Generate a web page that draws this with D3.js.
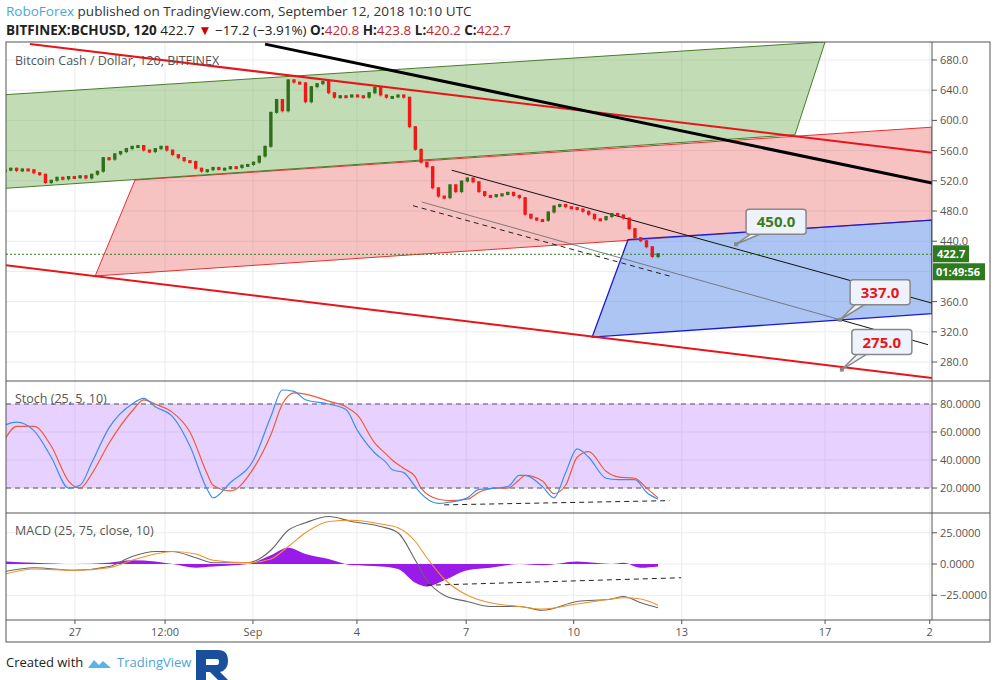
<!DOCTYPE html>
<html><head><meta charset="utf-8">
<script src="https://d3js.org/d3.v7.min.js"></script>
<style>body{margin:0;background:#fff;}svg{font-family:"Open Sans",sans-serif;}</style>
</head><body><svg id="c" width="995" height="680"></svg>
<script>
// 4-hour closes from Aug 25 00:00 (bar index 0)
const closes=[534,536,533,535,534,530,528,517,520,524,522,525,524,526,523,528,532,550,548,555,558,562,565,566,560,558,562,565,560,554,550,546,545,536,532,534,537,535,536,538,537,540,541,544,552,565,610,627,612,653,650,649,624,644,648,651,636,630,632,631,633,632,630,636,643,633,630,631,633,630,591,561,544,538,510,499,497,514,505,519,523,518,505,500,499,501,502,504,500,497,475,470,468,467,478,486,488,485,484,482,479,475,469,468,472,476,474,470,456,444,440,432,419,422.7];
const stochIdx=[0,2,5,8,11,13,15,18,22,24,26,29,32,35,36,39,43,46,48,50,52,56,59,61,64,66,67,69,71,72,75,77,80,82,85,87,89,90,93,95,97,99,101,104,106,109,111,113];
const stochK=[65,67,61,42,20,22,38,63,80,84,78,71,50,19,13,24,40,71,90,89,83,80,76,61,45,38,33,31,21,16,9,10,13,19,20,21,29,29,21,13,31,48,42,27,26,26,17,12];
const stochD=[55,64,64,50,25,20,30,52,75,83,80,74,60,30,22,18,34,58,80,88,87,82,78,72,52,44,40,34,28,20,12,11,12,17,20,20,26,29,25,16,22,42,46,32,28,27,20,13];
const macdIdx=[0,5,12,18,22,26,29,33,36,42,46,49,52,56,60,65,68,71,73,76,80,84,89,93,99,105,107,110,113];
const macdLine=[-6,-3,-5,-2,6,10,10,5,1,1,11,27,33,38,34,30,25,3,-13,-25,-30,-34,-34,-37,-30,-28,-26,-31,-35];
const signalLine=[-8,-4,-5,-3,3,8,10,8,3,1,4,14,25,34,35,32,29,18,5,-12,-25,-31,-34,-36,-32,-28,-27,-28,-33];
const xTicks=[["27",12.1],["12:00",27.7],["Sep",42.9],["4",60.9],["7",79.8],["10",98.4],["13",117.1],["17",141.9],["2",160]];
const priceTicks=[680,640,600,560,520,480,440,360,320,280];
const stochTicks=[80,60,40,20];
const macdTicks=[25,0,-25];
// drawing tools: [barIndex, price]
const redTop=[[4.3,701],[160.4,557]];
const redBottom=[[-0.1,408.5],[160.4,258.8]];
const blackThick=[[45,701],[160.4,517]];
const greenChannel=[[0,634],[141.9,704],[136.7,581],[0,510]];
const redChannel=[[22.5,521],[160.4,591],[160.4,468],[15.6,394]];
const blueBox=[[107.8,442],[160.4,468],[160.4,344],[101.6,313]];
const thinBlack=[[77.3,534],[160.4,358]];
const thinGrey=[[72.1,492],[144.5,336]];
const thinBlack2=[[144.5,336],[159.7,303]];
const dashed=[[70.6,487],[115.4,393]];
const stochDash=[[76,8],[115,11]];
const macdDash=[[73,-17],[117,-11]];
const targets=[{v:"450.0",pt:[126.5,436],col:"#3a7d1e"},{v:"337.0",pt:[144.5,336],col:"#e8141a"},{v:"275.0",pt:[144.8,270],col:"#e8141a"}];

const svg=d3.select("#c");
const L=6,R=932,W=990;
const x=d3.scaleLinear().domain([0,160.4]).range([5,932]);
const y=d3.scaleLinear().domain([256.2,703.8]).range([380,42]);
const ys=d3.scaleLinear().domain([2.9,95.7]).range([512,382]);
const ym=d3.scaleLinear().domain([-44.8,40]).range([620,514]);
const defs=svg.append("defs");
[["cm",42,380],["cs",382,512],["cmd",514,620]].forEach(([id,a,b])=>defs.append("clipPath").attr("id",id).append("rect").attr("x",L).attr("y",a).attr("width",R-L).attr("height",b-a));

// header
const h=svg.append("g").attr("font-size",13.5);
h.append("text").attr("x",6).attr("y",16).html('<tspan fill="#4aa8d8">RoboForex</tspan><tspan fill="#333"> published on TradingView.com, September 12, 2018 10:10 UTC</tspan>');
h.append("text").attr("x",6).attr("y",35).html('<tspan font-weight="bold" fill="#222">BITFINEX:BCHUSD, 120</tspan><tspan fill="#222"> 422.7 </tspan><tspan fill="#c00">▼</tspan><tspan fill="#222"> −17.2 (−3.91%) </tspan><tspan font-weight="bold" fill="#222">O:</tspan><tspan fill="#c0282d">420.8 </tspan><tspan font-weight="bold" fill="#222">H:</tspan><tspan fill="#c0282d">423.8 </tspan><tspan font-weight="bold" fill="#222">L:</tspan><tspan fill="#c0282d">420.2 </tspan><tspan font-weight="bold" fill="#222">C:</tspan><tspan fill="#c0282d">422.7</tspan>');

// grids
const grid=svg.append("g").attr("stroke","#e9ecf0").attr("stroke-width",1);
xTicks.forEach(t=>grid.append("line").attr("x1",x(t[1])).attr("x2",x(t[1])).attr("y1",42).attr("y2",620));
priceTicks.concat([400]).forEach(p=>grid.append("line").attr("x1",L).attr("x2",R).attr("y1",y(p)).attr("y2",y(p)));
stochTicks.forEach(p=>grid.append("line").attr("x1",L).attr("x2",R).attr("y1",ys(p)).attr("y2",ys(p)));
macdTicks.forEach(p=>grid.append("line").attr("x1",L).attr("x2",R).attr("y1",ym(p)).attr("y2",ym(p)));

// main pane
const m=svg.append("g").attr("clip-path","url(#cm)");
const poly=(pts,fill,stroke,sw)=>m.append("path").attr("d","M"+pts.map(p=>[x(p[0]),y(p[1])].join(",")).join("L")+"Z").attr("fill",fill).attr("stroke",stroke).attr("stroke-width",sw);
const line=(pts,stroke,sw,dash)=>m.append("line").attr("x1",x(pts[0][0])).attr("y1",y(pts[0][1])).attr("x2",x(pts[1][0])).attr("y2",y(pts[1][1])).attr("stroke",stroke).attr("stroke-width",sw).attr("stroke-dasharray",dash||null);
poly(redChannel,"rgba(230,80,80,0.35)","#e83030",1);
poly(greenChannel,"rgba(120,180,90,0.45)","#4a7a2a",1);
poly(blueBox,"rgba(90,140,230,0.5)","#1a1ad0",1.3);
line(dashed,"#222",1,"5,4");
line(thinGrey,"#666",0.8);
line(thinBlack,"#111",1);
line(thinBlack2,"#111",1);
line(redTop,"#e8141a",2);
line(redBottom,"#e8141a",2);
line(blackThick,"#000",3);
m.append("line").attr("x1",L).attr("x2",R).attr("y1",y(422.7)).attr("y2",y(422.7)).attr("stroke","#2e7d1e").attr("stroke-dasharray","2,2");
// candles
const bw=3.4;
closes.forEach((c,i)=>{
  const o=i?closes[i-1]:c, up=c>=o, col=up?"#2f6e1a":"#f01818";
  const hi=Math.max(o,c)+1.5, lo=Math.min(o,c)-1.5;
  m.append("line").attr("x1",x(i)).attr("x2",x(i)).attr("y1",y(hi)).attr("y2",y(lo)).attr("stroke",col).attr("stroke-width",0.8);
  m.append("rect").attr("x",x(i)-bw/2).attr("y",y(Math.max(o,c))-1).attr("width",bw).attr("height",Math.max(2,Math.abs(y(o)-y(c)))+1).attr("fill",col);
});
m.append("text").attr("x",15).attr("y",65).attr("font-size",12.5).attr("fill","#555").text("Bitcoin Cash / Dollar, 120, BITFINEX");
// callouts
targets.forEach((t,k)=>{
  const px=x(t.pt[0]), py=y(t.pt[1]);
  const bx=px+10, by=py-(k==0?35:40);
  m.append("path").attr("d",`M${px},${py}L${bx+6},${by+24}L${bx+16},${by+24}Z`).attr("fill","#eef2fa").attr("stroke","#888").attr("stroke-width",1.5);
  m.append("rect").attr("x",bx).attr("y",by).attr("width",60).attr("height",25).attr("rx",3).attr("fill","#eef2fa").attr("stroke","#888").attr("stroke-width",1.5);
  m.append("rect").attr("x",px-2).attr("y",py-2).attr("width",4).attr("height",4).attr("fill","#888");
  m.append("text").attr("x",bx+30).attr("y",by+18).attr("text-anchor","middle").attr("font-size",15).attr("font-weight","bold").attr("fill",t.col).text(t.v);
});

// stoch pane
const s=svg.append("g").attr("clip-path","url(#cs)");
s.append("rect").attr("x",L).attr("width",R-L).attr("y",ys(80)).attr("height",ys(20)-ys(80)).attr("fill","rgba(170,90,255,0.28)");
[80,20].forEach(v=>s.append("line").attr("x1",L).attr("x2",R).attr("y1",ys(v)).attr("y2",ys(v)).attr("stroke","#555").attr("stroke-dasharray","5,4"));
const sl=arr=>d3.line().x((d,i)=>x(stochIdx[i])).y(d=>ys(d)).curve(d3.curveMonotoneX)(arr);
s.append("path").attr("d",sl(stochD)).attr("fill","none").attr("stroke","#f05a3a").attr("stroke-width",1.2);
s.append("path").attr("d",sl(stochK)).attr("fill","none").attr("stroke","#3a8ef0").attr("stroke-width",1.2);
s.append("line").attr("x1",x(stochDash[0][0])).attr("y1",ys(stochDash[0][1])).attr("x2",x(stochDash[1][0])).attr("y2",ys(stochDash[1][1])).attr("stroke","#222").attr("stroke-dasharray","5,4");
s.append("text").attr("x",15).attr("y",403).attr("font-size",12.5).attr("fill","#555").text("Stoch (25, 5, 10)");

// macd pane
const md=svg.append("g").attr("clip-path","url(#cmd)");
const hist=macdLine.map((v,i)=>v-signalLine[i]);
md.append("path").attr("d",d3.area().x((d,i)=>x(macdIdx[i])).y0(ym(0)).y1(d=>ym(d)).curve(d3.curveMonotoneX)(hist)).attr("fill","#9a1aea");
const ml=arr=>d3.line().x((d,i)=>x(macdIdx[i])).y(d=>ym(d)).curve(d3.curveMonotoneX)(arr);
md.append("path").attr("d",ml(macdLine)).attr("fill","none").attr("stroke","#666").attr("stroke-width",1.1);
md.append("path").attr("d",ml(signalLine)).attr("fill","none").attr("stroke","#f0922a").attr("stroke-width",1.1);
md.append("line").attr("x1",x(macdDash[0][0])).attr("y1",ym(macdDash[0][1])).attr("x2",x(macdDash[1][0])).attr("y2",ym(macdDash[1][1])).attr("stroke","#222").attr("stroke-dasharray","5,4");
md.append("text").attr("x",15).attr("y",535).attr("font-size",12.5).attr("fill","#555").text("MACD (25, 75, close, 10)");

// frames
const f=svg.append("g").attr("fill","none").attr("stroke","#555");
f.append("rect").attr("x",L).attr("y",42).attr("width",W-L).attr("height",600);
f.append("line").attr("x1",R).attr("x2",R).attr("y1",42).attr("y2",620);
[381,513,620].forEach(v=>f.append("line").attr("x1",L).attr("x2",W).attr("y1",v).attr("y2",v));

// axes
const ax=svg.append("g").attr("font-size",11).attr("fill","#555");
const rAxis=(sc,ticks,fmt)=>ticks.forEach(t=>{ax.append("line").attr("x1",R).attr("x2",R+5).attr("y1",sc(t)).attr("y2",sc(t)).attr("stroke","#555");ax.append("text").attr("x",R+8).attr("y",sc(t)+4).text(fmt(t));});
rAxis(y,priceTicks,d=>d.toFixed(1));
rAxis(ys,stochTicks,d=>d.toFixed(4));
rAxis(ym,macdTicks,d=>d.toFixed(4).replace("-","−"));
ax.append("rect").attr("x",R+1).attr("y",y(422.7)-9).attr("width",36).attr("height",17).attr("fill","#2e7a1e");
ax.append("text").attr("x",R+5).attr("y",y(422.7)+4).attr("fill","#fff").attr("font-weight","bold").text("422.7");
ax.append("rect").attr("x",R+1).attr("y",y(422.7)+9).attr("width",52).attr("height",17).attr("fill","#2e7a1e");
ax.append("text").attr("x",R+4).attr("y",y(422.7)+22).attr("fill","#fff").attr("font-weight","bold").text("01:49:56");
xTicks.forEach(t=>{ax.append("line").attr("x1",x(t[1])).attr("x2",x(t[1])).attr("y1",620).attr("y2",624).attr("stroke","#555");ax.append("text").attr("x",x(t[1])).attr("y",636).attr("text-anchor","middle").text(t[0]);});

// footer
const ft=svg.append("g");
ft.append("text").attr("x",6).attr("y",667).attr("font-size",13).attr("fill","#222").text("Created with");
ft.append("path").attr("d","M88,668 l6,-8 l5,5 l4,-4 l8,7 z").attr("fill","#5ab4e5");
ft.append("text").attr("x",117).attr("y",667).attr("font-size",13).attr("fill","#4fa3d8").text("TradingView");
ft.append("path").attr("d","M196,680 V650 H218 Q228,650 228,661 Q228,670 220,672 L228,680 H218 L210,672 H206 V680 Z M206,659 V665 H217 Q219,665 219,662 Q219,659 217,659 Z").attr("fill","#1a4f9c").attr("fill-rule","evenodd");
</script></body></html>
